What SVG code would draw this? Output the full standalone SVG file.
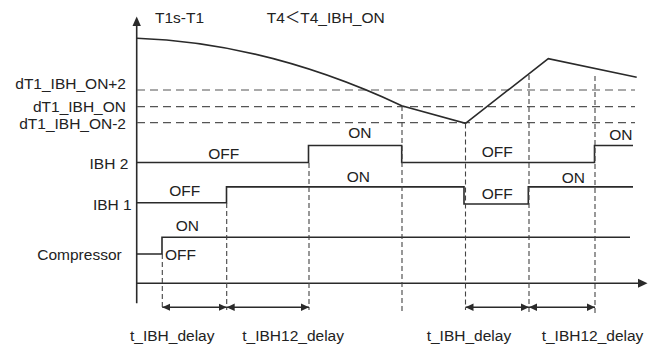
<svg xmlns="http://www.w3.org/2000/svg" width="660" height="350" viewBox="0 0 660 350">
  <style>
    text { font-family: "Liberation Sans", Arial, "Noto Sans CJK SC", sans-serif; font-size: 15.5px; fill: #222; }
    .end { text-anchor: end; }
    .sig { fill: none; stroke: #2a2a2a; stroke-width: 1.6; }
    .axis { fill: none; stroke: #2a2a2a; stroke-width: 1.6; }
    .hd { fill: none; stroke: #555; stroke-width: 1.2; stroke-dasharray: 8 5; }
    .vd { fill: none; stroke: #444; stroke-width: 1.1; stroke-dasharray: 5 3; }
    .dim { fill: none; stroke: #2a2a2a; stroke-width: 1.4; marker-start: url(#ah); marker-end: url(#ah); }
  </style>
  <defs>
    <marker id="ah" viewBox="0 0 8 8" refX="8" refY="4" markerWidth="8" markerHeight="8" markerUnits="userSpaceOnUse" orient="auto-start-reverse">
      <path d="M0,0.3 L8,4 L0,7.7 Z" fill="#2a2a2a"/>
    </marker>
  </defs>
  <rect width="660" height="350" fill="#fff"/>

  <g id="axes">
    <path class="axis" d="M136.7,303.3 V24"/>
    <path d="M136.7,16.5 L132.5,26 L140.9,26 Z" fill="#2a2a2a"/>
    <path class="axis" d="M136.7,283.3 H640"/>
    <path d="M647.5,283.3 L638,278.8 L638,287.8 Z" fill="#2a2a2a"/>
    <text x="155" y="23">T1s-T1</text>
    <text x="266.7" y="23">T4＜T4_IBH_ON</text>
  </g>

  <g id="thresholds">
    <path class="hd" d="M137,90 H635"/>
    <path class="hd" d="M137,106.7 H635"/>
    <path class="hd" d="M137,122.7 H635"/>
    <text class="end" x="126" y="89">dT1_IBH_ON+2</text>
    <text class="end" x="126" y="111.5">dT1_IBH_ON</text>
    <text class="end" x="126" y="128.5">dT1_IBH_ON-2</text>
  </g>

  <g id="temperature-curve">
    <path class="sig" d="M137,38.3 Q268,43 401.7,105.7 L465.5,123.3 L548.3,58.7 L636.7,77.3"/>
  </g>

  <g id="ibh2">
    <path class="sig" d="M137,162.5 H308.5 V145.5 H401.7 V162.5 H594.5 V145.5 H633"/>
    <text class="end" x="128.3" y="169">IBH 2</text>
    <text x="208.3" y="159.3">OFF</text>
    <text x="348.3" y="138">ON</text>
    <text x="481.7" y="156.5">OFF</text>
    <text x="609.3" y="140">ON</text>
  </g>

  <g id="ibh1">
    <path class="sig" d="M137,202.7 H226.5 V186.9 H464 V204 H528.3 V186.9 H633"/>
    <text class="end" x="131.7" y="210">IBH 1</text>
    <text x="169.3" y="196">OFF</text>
    <text x="346.7" y="181.7">ON</text>
    <text x="481.7" y="199">OFF</text>
    <text x="561.7" y="182.7">ON</text>
  </g>

  <g id="compressor">
    <path class="sig" d="M137,254 H162 V237.3 H630"/>
    <text class="end" x="121.7" y="260">Compressor</text>
    <text x="175.7" y="230.7">ON</text>
    <text x="165" y="260">OFF</text>
  </g>

  <g id="connectors">
    <path class="vd" d="M162.3,254 V310"/>
    <path class="vd" d="M226.7,203 V310"/>
    <path class="vd" d="M309,163 V310"/>
    <path class="vd" d="M402,106 V313"/>
    <path class="vd" d="M465.5,123.5 V310"/>
    <path class="vd" d="M529,75 V313"/>
    <path class="vd" d="M595,76 V313"/>
    <path class="dim" d="M162.3,307.3 H226.7"/>
    <path class="dim" d="M226.7,307.3 H309"/>
    <path class="dim" d="M465.5,307.3 H529"/>
    <path class="dim" d="M529,307.3 H595"/>
  </g>

  <g id="delay-labels">
    <text x="130" y="341">t_IBH_delay</text>
    <text x="242.3" y="341">t_IBH12_delay</text>
    <text x="426.7" y="341">t_IBH_delay</text>
    <text x="541.7" y="341">t_IBH12_delay</text>
  </g>
</svg>
